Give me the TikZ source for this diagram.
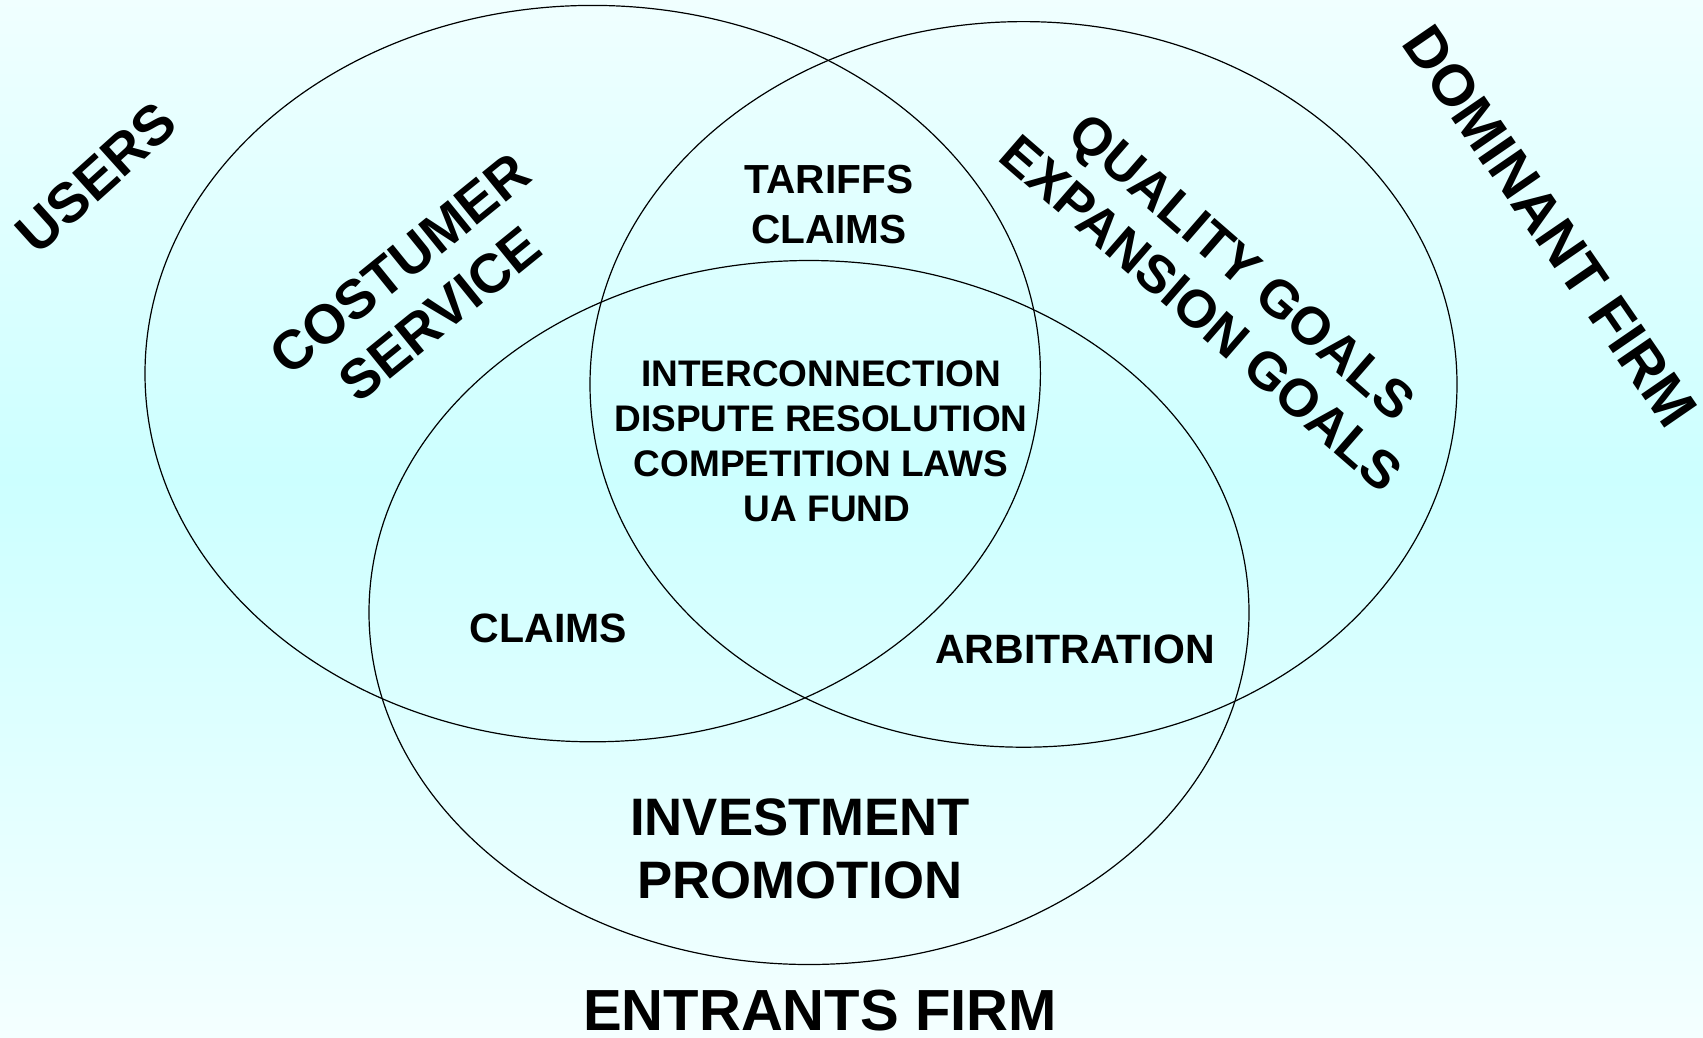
\documentclass[tikz,border=0pt]{standalone}
\usepackage{fontspec}
\setmainfont{Liberation Sans}
\definecolor{bgtop}{HTML}{F0FFFF}
\definecolor{bgmid}{HTML}{CCFFFF}
\definecolor{bgbot}{HTML}{F4FFFF}
\newcommand{\fsz}[2]{\fontsize{#1}{#2}\selectfont\bfseries}
\begin{document}
\begin{tikzpicture}[x=1pt,y=-1pt,
  circ/.style={draw=black,line width=1.2pt},
  lbl/.style={inner sep=0pt,align=center,text=black}]
\useasboundingbox (0,0) rectangle (1703,1037);
\shade[top color=bgtop,bottom color=bgmid] (0,0) rectangle (1703,480);
\shade[top color=bgmid,bottom color=bgbot] (0,479) rectangle (1703,1037);
% ellipses
\draw[circ] (592.7,373.6) ellipse [x radius=447.7pt,y radius=368.2pt];
\draw[circ] (1023.5,384.4) ellipse [x radius=433.5pt,y radius=362.8pt];
\draw[circ] (809,612.5) ellipse [x radius=440pt,y radius=352pt];
% labels
\node[lbl,rotate=42,font=\fsz{56}{66}] (users) at (96,178) {USERS};
\node[lbl,rotate=39,font=\fsz{55}{64}] (cs) at (420,289) {COSTUMER\\SERVICE};
\node[lbl,font=\fsz{40.6}{50}] (tc) at (829,205) {TARIFFS\\CLAIMS};
\node[lbl,rotate=-41,font=\fsz{53}{62}] (qe) at (1222,290) {QUALITY GOALS\\EXPANSION GOALS};
\node[lbl,rotate=-55.5,font=\fsz{58}{66}] (dom) at (1550,226.5) {DOMINANT FIRM};
\node[lbl,font=\fsz{37}{45}] (core) at (821,441) {INTERCONNECTION\\DISPUTE RESOLUTION\\COMPETITION LAWS\\\hspace*{12pt}UA FUND};
\node[lbl,font=\fsz{41}{50}] (claims) at (548.5,628) {CLAIMS};
\node[lbl,font=\fsz{41}{50}] (arb) at (1075,649.5) {ARBITRATION};
\node[lbl,font=\fsz{52.7}{63}] (inv) at (800,848.5) {INVESTMENT\\PROMOTION};
\node[lbl,font=\fsz{58}{66}] (ent) at (820,1011) {ENTRANTS FIRM};
\end{tikzpicture}
\end{document}
